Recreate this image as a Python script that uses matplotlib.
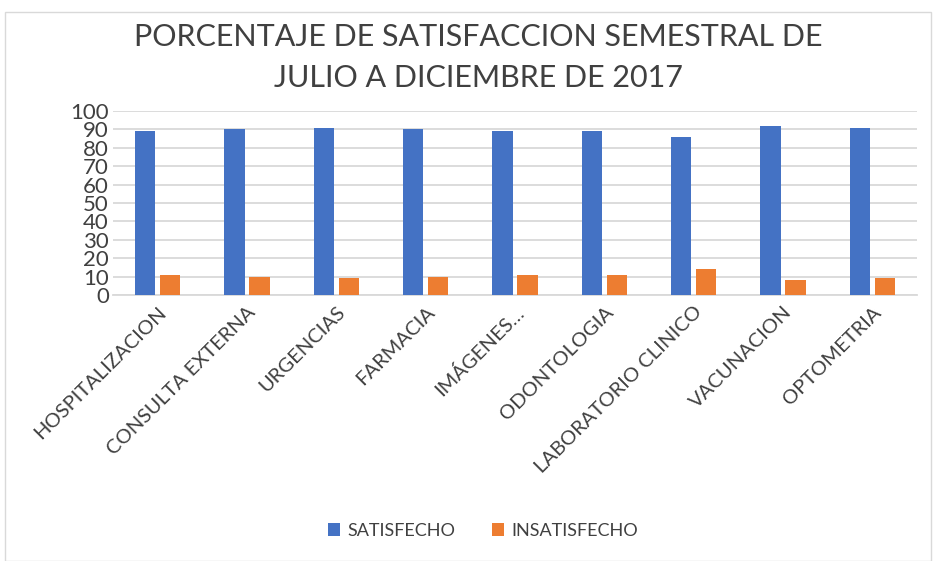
import matplotlib
matplotlib.use("Agg")
import matplotlib.pyplot as plt
import numpy as np
from matplotlib.patches import Rectangle

plt.rcParams['font.family'] = ['Lato', 'DejaVu Sans']

categories = ["HOSPITALIZACION", "CONSULTA EXTERNA", "URGENCIAS", "FARMACIA",
              "IMÁGENES…", "ODONTOLOGIA", "LABORATORIO CLINICO", "VACUNACION", "OPTOMETRIA"]
satisfecho = [89, 90, 91, 90, 89, 89, 86, 92, 91]
insatisfecho = [11, 10, 9, 10, 11, 11, 14, 8, 9]
yticks = [0, 10, 20, 30, 40, 50, 60, 70, 80, 90, 100]

W, H = 934, 561
fig = plt.figure(figsize=(W / 100, H / 100), dpi=100)
fig.patches.append(Rectangle((5 / W, 0), (W - 8) / W, 1 - 12 / H, transform=fig.transFigure,
                             fill=False, edgecolor='#d9d9d9', linewidth=1))

ax = fig.add_axes([113 / W, 1 - 295 / H, (917 - 113) / W, (295 - 111) / H])
x = np.arange(len(categories))
bw = 0.225
ax.bar(x - 0.14, satisfecho, width=bw, color='#4472c4', label='SATISFECHO', zorder=3)
ax.bar(x + 0.14, insatisfecho, width=bw, color='#ed7d31', label='INSATISFECHO', zorder=3)

ax.set_xlim(-0.5, len(categories) - 0.5)
ax.set_ylim(0, 100)
ax.set_yticks(yticks)
ax.set_yticklabels([str(v) for v in yticks], fontsize=16, color='#404040')
ax.yaxis.grid(True, color='#d9d9d9', linewidth=1.3, zorder=0)
ax.tick_params(axis='y', length=0, pad=3)
ax.tick_params(axis='x', length=0, pad=6)
for s in ['top', 'right', 'left']:
    ax.spines[s].set_visible(False)
ax.spines['bottom'].set_color('#d9d9d9')
ax.spines['bottom'].set_linewidth(1.3)
ax.set_xticks(x)
ax.set_xticklabels(categories, rotation=45, ha='right', rotation_mode='anchor',
                   fontsize=14.5, color='#404040')

fig.text(478 / W, 1 - 37 / H, "PORCENTAJE DE SATISFACCION SEMESTRAL DE", ha='center', va='center',
         fontsize=22, color='#404040')
fig.text(478 / W, 1 - 78 / H, "JULIO A DICIEMBRE DE 2017", ha='center', va='center',
         fontsize=22, color='#404040')

h, l = ax.get_legend_handles_labels()
fig.legend(h, l, loc='center', bbox_to_anchor=(483 / W, 1 - 531 / H), ncol=2, frameon=False,
           fontsize=13, handlelength=0.7, handleheight=0.7, columnspacing=2.0, handletextpad=0.4,
           labelcolor='#404040')

fig.savefig("out.png", dpi=100)
